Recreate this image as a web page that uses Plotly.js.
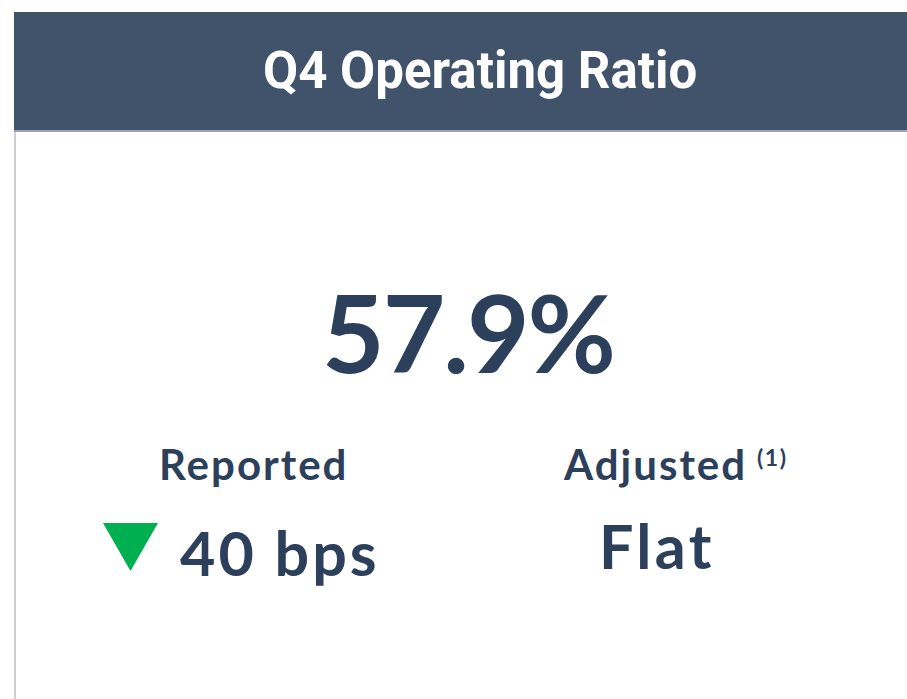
<!DOCTYPE html>
<html>
<head>
<meta charset="utf-8">
<script src="https://cdn.plot.ly/plotly-3.0.1.min.js"></script>
<style>
  html, body { margin: 0; padding: 0; background: #ffffff; }
  #chart { width: 907px; height: 699px; }
</style>
</head>
<body>
<div id="chart"></div>
<script>
// ---- Data ----
const cardTitle = ["Q4 Operating Ratio"];
const ratioValue = [57.9];             // percent
const metricLabels = ["Reported", "Adjusted"];
const changeBps = [-40, 0];            // year-over-year change in basis points
const footnoteMarks = ["", "(1)"];

// ---- Style constants ----
const NAVY = "#2c405c";
const HEADER = "#40536b";
const GREEN = "#00b050";
const W = 907, H = 699;
const labelFont = "Lato, 'Open Sans', sans-serif";

function changeText(v) {
  if (v === 0) return "Flat";
  return Math.abs(v) + " bps";
}
function spaced(t, px) {
  return '<span style="letter-spacing:' + px + 'px">' + t + '</span>';
}

const annotations = [];
// Title
annotations.push({
  x: 480, y: 70, xref: "x", yref: "y", showarrow: false,
  xanchor: "center", yanchor: "middle",
  text: "<b>" + cardTitle[0] + "</b>",
  font: { family: "Roboto, sans-serif", size: 51, color: "#ffffff" }
});
// Big number
annotations.push({
  x: 468, y: 331, xref: "x", yref: "y", showarrow: false,
  xanchor: "center", yanchor: "middle",
  text: "<b>" + spaced(ratioValue[0].toFixed(1) + "%", -2) + "</b>",
  font: { family: labelFont, size: 108, color: NAVY }
});
// Metric labels + values
const labelX = [253, 655];
const valueX = [280, 657];
const valueY = [552, 545];
const valueSpacing = [3, 3.3];
metricLabels.forEach((lab, i) => {
  annotations.push({
    x: labelX[i], y: 464, xref: "x", yref: "y", showarrow: false,
    xanchor: "center", yanchor: "middle",
    text: "<b>" + spaced(lab, 2) + "</b>",
    font: { family: labelFont, size: 42, color: NAVY }
  });
  annotations.push({
    x: valueX[i], y: valueY[i], xref: "x", yref: "y", showarrow: false,
    xanchor: "center", yanchor: "middle",
    text: "<b>" + spaced(changeText(changeBps[i]), valueSpacing[i]) + "</b>",
    font: { family: labelFont, size: 61, color: NAVY }
  });
  if (footnoteMarks[i]) {
    annotations.push({
      x: 772, y: 457, xref: "x", yref: "y", showarrow: false,
      xanchor: "center", yanchor: "middle",
      text: "<b>" + spaced(footnoteMarks[i], 1.5) + "</b>",
      font: { family: labelFont, size: 23, color: NAVY }
    });
  }
});

// Frame and direction triangle for reported change
const shapes = [
  { type: "rect", xref: "x", yref: "y", x0: 14, x1: W, y0: 12, y1: 130,
    fillcolor: HEADER, line: { width: 0 }, layer: "below" },
  { type: "line", xref: "x", yref: "y", x0: 14, x1: W, y0: 131, y1: 131,
    line: { color: "#9aa3ad", width: 2 } },
  { type: "line", xref: "x", yref: "y", x0: 15, x1: 15, y0: 132, y1: H,
    line: { color: "#cfcfcf", width: 2 } }
];
changeBps.forEach((v, i) => {
  if (v === 0) return;
  const cx = 130.5, cy = 547, hw = 27.5, hh = 24;
  const down = v < 0;
  const path = down
    ? `M${cx - hw},${cy - hh} L${cx + hw},${cy - hh} L${cx},${cy + hh} Z`
    : `M${cx - hw},${cy + hh} L${cx + hw},${cy + hh} L${cx},${cy - hh} Z`;
  shapes.push({ type: "path", xref: "x", yref: "y", path: path,
    fillcolor: down ? GREEN : "#c00000", line: { width: 0 } });
});

const layout = {
  width: W, height: H,
  margin: { l: 0, r: 0, t: 0, b: 0, pad: 0 },
  paper_bgcolor: "#ffffff", plot_bgcolor: "#ffffff",
  xaxis: { range: [0, W], visible: false, fixedrange: true },
  yaxis: { range: [H, 0], visible: false, fixedrange: true },
  showlegend: false,
  shapes: shapes,
  annotations: annotations
};

Plotly.newPlot("chart", [{ x: [], y: [], type: "scatter", mode: "markers", hoverinfo: "skip" }], layout,
  { displayModeBar: false, staticPlot: true });
</script>
</body>
</html>
